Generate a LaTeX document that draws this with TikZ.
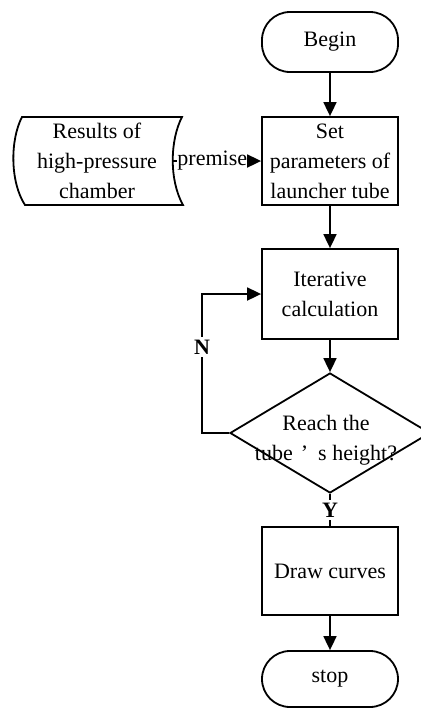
\documentclass[tikz,border=0pt]{standalone}
\usepackage{fontspec}
\setmainfont{Liberation Serif}
\usetikzlibrary{shapes.geometric,arrows.meta}

\begin{document}
\begin{tikzpicture}[x=0.5pt,y=0.5pt,yscale=-1,xscale=1,
  every node/.style={font=\fontsize{11}{15}\selectfont, align=center, inner sep=1pt},
  procbox/.style={draw, line width=0.9pt, minimum width=68pt, minimum height=44pt},
  termbox/.style={draw, line width=0.9pt, rounded corners=14pt, minimum width=68pt},
  arr/.style={line width=0.9pt, -{Triangle[length=7pt,width=6.5pt]}},
  yn/.style={fill=white, font=\bfseries\fontsize{11}{13}\selectfont, inner sep=1.5pt}]
\useasboundingbox (0,0) rectangle (420,709);
%Shape: Terminal
\node [termbox, minimum height=30pt] (begin) at (330,42) {Begin};
%Shape: Rectangle
\node [procbox] (set) at (330,161) {Set\\parameters of\\launcher tube};
%Shape: Stored data
\draw [line width=0.9pt] (22,117) -- (182,117) .. controls (170,140) and (169,180) .. (183,205) -- (25,205) .. controls (10,182) and (10,140) .. (22,117) -- cycle ;
% Text Node
\node [minimum width=75pt, minimum height=44pt] (res) at (97,161) {Results of\\high-pressure\\chamber};
%Shape: Rectangle
\node [procbox, minimum height=45pt] (iter) at (330,294) {Iterative\\calculation};
%Shape: Diamond
\node [diamond, draw, line width=0.9pt, inner sep=0pt, minimum width=100pt, minimum height=60pt] (reach) at (330,433) {};
% Text Node
\node (reachtxt) at (326,440) {Reach the\\tube\hspace{4pt}’\hspace{5pt}s height?};
%Shape: Rectangle
\node [procbox] (drawc) at (330,571) {Draw curves};
%Shape: Terminal
\node [termbox, minimum height=28pt] (stop) at (330,679) {stop};
%Straight Lines
\draw [arr] (begin) -- (set);
\draw [arr] (res.east) -- node [fill=white, inner sep=0pt, pos=0.45] {premise} (set.west);
\draw [arr] (set) -- (iter);
\draw [arr] (iter) -- (reach.north);
\draw [arr] (reach.west) -- ++(-27,0) |- node [yn, pos=0.31] {N} (iter.west);
\draw [line width=0.9pt] (reach.south) -- node [yn] {Y} (drawc.north);
\draw [arr] (drawc) -- (stop);
\end{tikzpicture}
\end{document}
